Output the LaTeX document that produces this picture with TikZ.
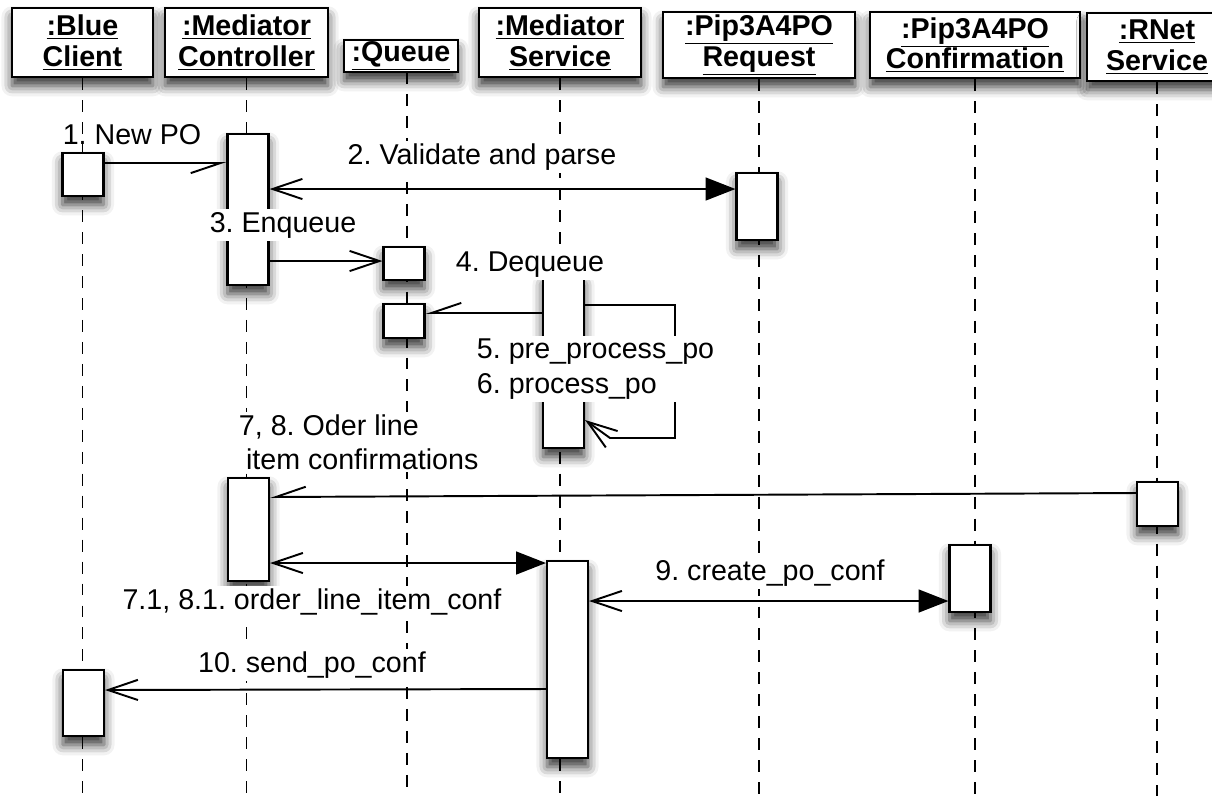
\documentclass[tikz,border=0pt]{standalone}
\usepackage{fontspec}
\setmainfont{Liberation Sans}
\usetikzlibrary{arrows.meta,shadows.blur}

\tikzset{
  head/.style={draw, line width=1.6pt, fill=white, align=center, inner sep=0pt,
    font=\fontsize{16.3}{17.6}\selectfont\bfseries, minimum height=1.38cm,
    blur shadow={shadow xshift=0pt, shadow yshift=-5pt, shadow blur radius=6pt, shadow opacity=80}},
  act/.style={draw, line width=1.2pt, fill=white, inner sep=0pt, minimum width=0.82cm,
    blur shadow={shadow xshift=0pt, shadow yshift=-5pt, shadow blur radius=6pt, shadow opacity=80}},
  lifeline/.style={line width=1.1pt, dash pattern=on 6.8pt off 5.7pt},
  msg/.style={line width=1.1pt},
  lbl/.style={fill=white, inner sep=1.5pt},
  vee/.tip={Straight Barb[length=17pt, width=11.5pt, line width=1.1pt]},
  hvee/.tip={Straight Barb[length=17pt, width=11.5pt, line width=1.1pt, harpoon, swap]},
  tri/.tip={Triangle[length=17pt, width=13pt]}
}

\begin{document}
\frenchspacing
\begin{tikzpicture}[x=0.02cm, y=-0.02cm, font=\fontsize{16.3}{19.5}\selectfont]
    \useasboundingbox (0,0) rectangle (1212,796);
    \coordinate (bottom) at (0,796);
    \node[head, minimum width=2.82cm] (bc) at (82.5,42.5) {\underline{:Blue}\\\underline{Client}};
    \node[head, minimum width=3.26cm] (mc) at (246.5,42.5) {\underline{:Mediator}\\\underline{Controller}};
    \node[head, minimum width=2.28cm, minimum height=0.64cm] (q) at (401,56) {\underline{:Queue}};
    \node[head, minimum width=3.24cm] (ms) at (560,42.5) {\underline{:Mediator}\\\underline{Service}};
    \node[head, minimum width=3.84cm, minimum height=1.32cm] (req) at (759,45) {\underline{:Pip3A4PO}\\\underline{Request}};
    \node[head, minimum width=4.2cm, minimum height=1.32cm] (conf) at (975,45) {\underline{:Pip3A4PO}\\\underline{Confirmation}};
    \node[head, minimum width=2.8cm, minimum height=1.36cm] (rn) at (1157,47) {\underline{:RNet}\\\underline{Service}};
    \draw[lifeline] (bc.south) -- (bc.south |- bottom);
    \draw[lifeline] (mc.south) -- (mc.south |- bottom);
    \draw[lifeline] (407,72) -- (407,796);
    \draw[lifeline] (ms.south) -- (ms.south |- bottom);
    \draw[lifeline] (req.south) -- (req.south |- bottom);
    \draw[lifeline] (conf.south) -- (conf.south |- bottom);
    \draw[lifeline] (rn.south) -- (rn.south |- bottom);
    \node[act, minimum height=0.86cm] (bc1) at (83,174.5) {};
    \node[act, minimum height=1.32cm] (bc2) at (83.5,703) {};
    \node[act, minimum height=3.02cm] (mc1) at (248,209.5) {};
    \node[act, minimum height=2.06cm] (mc2) at (248.5,529.5) {};
    \node[act, minimum height=0.66cm] (q1) at (404,263.5) {};
    \node[act, minimum height=0.68cm] (q2) at (404,321) {};
    \node[act, minimum height=3.44cm] (ms1) at (563.5,362) {};
    \node[act, minimum height=3.94cm] (ms2) at (567.5,659.5) {};
    \node[act, minimum height=1.34cm] (req1) at (757,206.5) {};
    \node[act, minimum height=1.34cm] (conf1) at (970,578.5) {};
    \node[act, minimum height=0.88cm] (rn1) at (1157.5,504) {};
    \draw[msg, -hvee] (bc1.east |- 0,163) -- (mc1.west |- 0,163);
    \draw[msg, vee-tri] (mc1.east |- 0,189) -- (req1.west |- 0,189);
    \draw[msg, -vee] (mc1.east |- 0,261) -- (q1.west |- 0,261);
    \draw[msg, -hvee] (ms1.west |- 0,313) -- (q2.east |- 0,313);
    \draw[msg, -vee] (ms1.east |- 0,305) -| (675,438) -- (610,438) -- (ms1.east |- 0,420);
    \draw[msg, -hvee] (rn1.west |- 0,493) -- (mc2.east |- 0,497);
    \draw[msg, vee-tri] (mc2.east |- 0,563) -- (ms2.west |- 0,563);
    \draw[msg, vee-tri] (ms2.east |- 0,601) -- (conf1.west |- 0,601);
    \draw[msg, -vee] (ms2.west |- 0,689) -- (bc2.east |- 0,690);
    \node (l1) at (132,135) {1. New PO};
    \node[lbl] (l2) at (482,157) {2. Validate and parse};
    \node[lbl] (l3) at (283,225) {3. Enqueue};
    \node[lbl] (l4) at (530,265) {4. Dequeue};
    \node[lbl, anchor=west, align=left] (l5) at (474,369) {5. pre\_process\_po\\6. process\_po};
    \node[lbl, anchor=west, align=left] (l7) at (236,442) {7, 8. Oder line\\\hspace{4pt}item confirmations};
    \node[lbl] (l71) at (312,602) {7.1, 8.1. order\_line\_item\_conf};
    \node[lbl] (l9) at (770,573) {9. create\_po\_conf};
    \node[lbl] (l10) at (312,665) {10. send\_po\_conf};
\end{tikzpicture}
\end{document}
